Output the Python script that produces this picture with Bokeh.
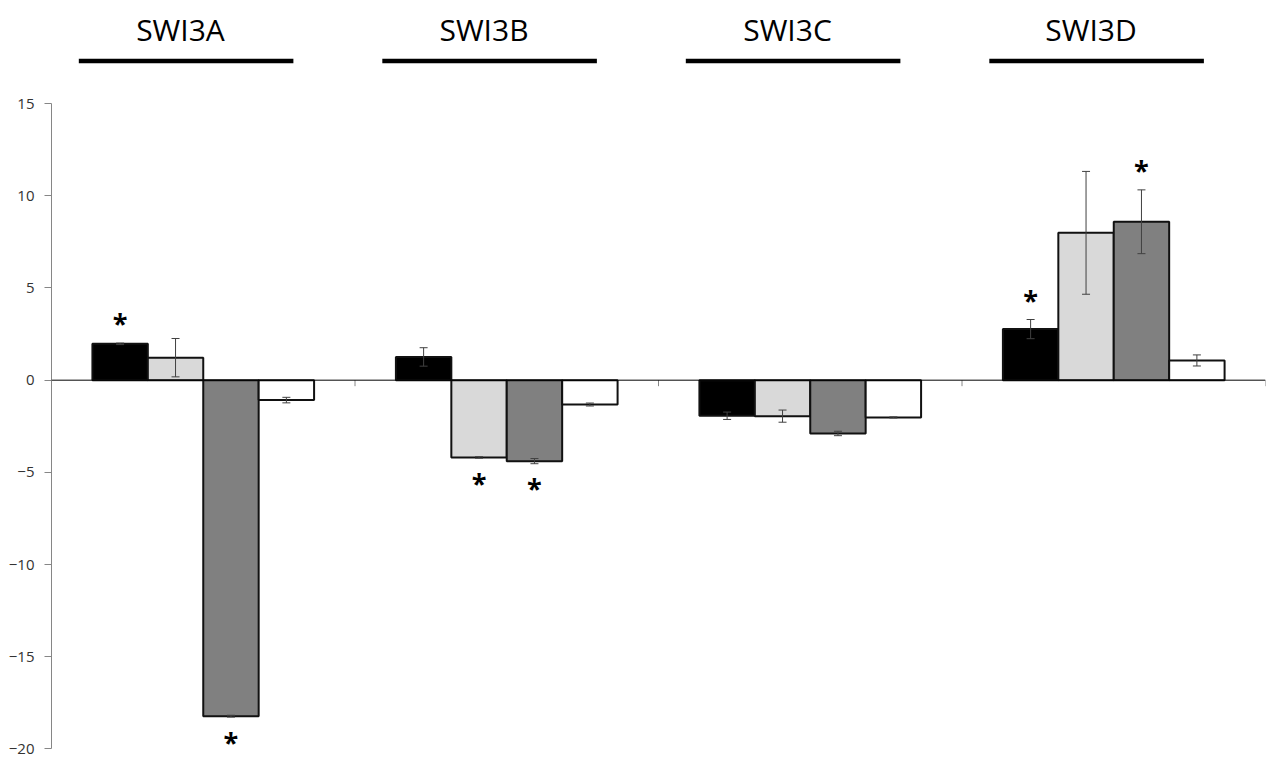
from bokeh.plotting import figure
from bokeh.models import (ColumnDataSource, FactorRange, Range1d, FixedTicker, Span,
                          Whisker, TeeHead)
from bokeh.transform import dodge
from bokeh.core.properties import value
from bokeh.embed import file_html
from bokeh.resources import INLINE

# ---------------- data ----------------
cats = ["SWI3A", "SWI3B", "SWI3C", "SWI3D"]
s1 = [1.97, 1.26, -1.93, 2.77]      # black
e1 = [0.04, 0.50, 0.20, 0.52]
s2 = [1.22, -4.19, -1.95, 7.99]     # light grey
e2 = [1.04, 0.04, 0.33, 3.33]
s3 = [-18.22, -4.39, -2.89, 8.59]   # dark grey
e3 = [0.05, 0.14, 0.12, 1.73]
s4 = [-1.08, -1.32, -2.02, 1.07]    # white
e4 = [0.15, 0.08, 0.03, 0.30]
sig1 = [1, 0, 0, 1]
sig2 = [0, 1, 0, 0]
sig3 = [1, 1, 0, 1]
sig4 = [0, 0, 0, 0]
yticks = [-20, -15, -10, -5, 0, 5, 10, 15]

series = [
    (s1, e1, sig1, "#000000"),
    (s2, e2, sig2, "#d9d9d9"),
    (s3, e3, sig3, "#808080"),
    (s4, e4, sig4, "#ffffff"),
]

# ---------------- figure ----------------
FONT = "Open Sans"
bar_w = 0.1826
offsets = [-1.5 * bar_w, -0.5 * bar_w, 0.5 * bar_w, 1.5 * bar_w]
PX = 18.43  # pixels per unit

p = figure(width=1266, height=759, x_range=FactorRange(*cats),
           y_range=Range1d(-20 - 9.5 / PX, 15 + 93 / PX), output_backend="svg",
           toolbar_location=None, min_border_left=51, min_border_right=1,
           min_border_top=10, min_border_bottom=1)
p.outline_line_color = None
p.xgrid.visible = False
p.ygrid.visible = False
p.xaxis.visible = False
p.background_fill_color = "white"
p.border_fill_color = "white"

ya = p.yaxis[0]
ya.ticker = FixedTicker(ticks=yticks)
ya.bounds = (-20, 15)
ya.axis_line_color = "#868686"
ya.major_tick_line_color = "#868686"
ya.major_tick_out = 7
ya.major_tick_in = 0
ya.minor_tick_line_color = None
ya.major_label_text_font = FONT
ya.major_label_text_font_size = "15px"
ya.major_label_text_color = "#333333"
ya.major_label_standoff = 10

# zero line
p.add_layout(Span(location=0, dimension="width", line_color="black", line_width=1))

# category boundary ticks
bsrc = ColumnDataSource(dict(cats=cats, y0=[0] * 4, y1=[-6 / PX] * 4))
p.segment(x0=dodge("cats", 0.5, range=p.x_range), x1=dodge("cats", 0.5, range=p.x_range),
          y0="y0", y1="y1", source=bsrc, line_color="#868686", line_width=1)

# bars, error bars, stars
for (vals, errs, sig, col), off in zip(series, offsets):
    up = [v + e for v, e in zip(vals, errs)]
    lo = [v - e for v, e in zip(vals, errs)]
    src = ColumnDataSource(dict(cats=cats, v=vals, up=up, lo=lo))
    p.vbar(x=dodge("cats", off, range=p.x_range), top="v", bottom=0, width=bar_w,
           source=src, fill_color=col, line_color="#111111", line_width=2)
    w = Whisker(source=src, base=dodge("cats", off, range=p.x_range), upper="up", lower="lo",
                line_color="#404040", line_width=1, level="overlay",
                upper_head=TeeHead(size=8, line_color="#404040", line_width=1),
                lower_head=TeeHead(size=8, line_color="#404040", line_width=1))
    p.add_layout(w)
    sc, sy = [], []
    for c, v, u, l, s in zip(cats, vals, up, lo, sig):
        if s:
            sc.append(c)
            sy.append(u + 1.2 if v >= 0 else l - 1.2)
    if sc:
        ssrc = ColumnDataSource(dict(cats=sc, y=sy, t=["*"] * len(sc)))
        p.text(x=dodge("cats", off, range=p.x_range), y="y", text="t", source=ssrc,
               text_font=value(FONT), text_font_size="27px", text_font_style="bold",
               text_align="center", text_baseline="middle", y_offset=2,
               text_color="black")

# titles with underline
tsrc = ColumnDataSource(dict(cats=cats, ty=[(380 - 30) / PX] * 4, ly=[(380 - 61) / PX] * 4))
p.text(x=dodge("cats", -0.075, range=p.x_range), y="ty", text="cats", source=tsrc,
       text_font=value(FONT), text_font_size="30px", text_align="center",
       text_baseline="middle", text_color="black")
p.segment(x0=dodge("cats", -0.41, range=p.x_range), x1=dodge("cats", 0.297, range=p.x_range),
          y0="ly", y1="ly", source=tsrc, line_color="black", line_width=4.5)

open("out.html", "w").write(file_html(p, INLINE))
